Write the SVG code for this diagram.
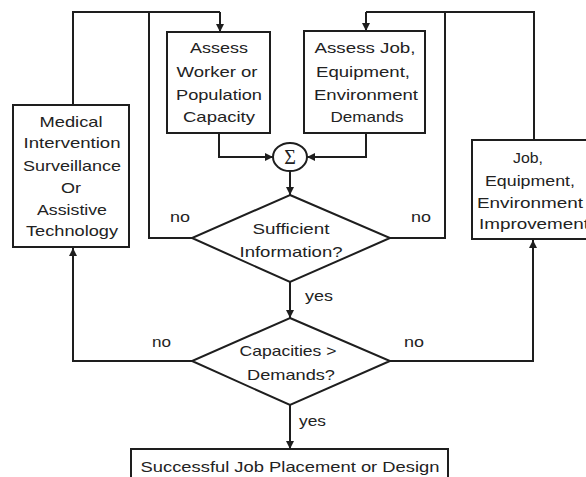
<svg xmlns="http://www.w3.org/2000/svg" width="586" height="477" viewBox="0 0 586 477">
  <defs>
    <marker id="arrow" viewBox="0 0 10 10" refX="10" refY="5" markerWidth="8" markerHeight="8" markerUnits="userSpaceOnUse" orient="auto">
      <path d="M0,0 L10,5 L0,10 z" fill="#1e1e1e"/>
    </marker>
  </defs>
  <style>
    .box { fill: #fff; stroke: #1e1e1e; stroke-width: 2; }
    .line { fill: none; stroke: #1e1e1e; stroke-width: 2; }
    .arr { marker-end: url(#arrow); }
    text { font-family: "Liberation Sans", Arial, sans-serif; font-size: 15px; fill: #222; text-anchor: middle; }
    .lbl { text-anchor: start; }
    .sigma { font-family: "Liberation Serif", "Times New Roman", serif; font-size: 20px; }
  </style>
  <rect width="586" height="477" fill="#fff"/>

  <!-- connectors -->
  <g id="connectors">
    <!-- left feedback loop into capacity assessment -->
    <polyline class="line" points="73,105 73,12 220,12"/>
    <polyline class="line" points="192,238 149,238 149,12"/>
    <polyline class="line arr" points="220,12 220,32"/>
    <!-- right feedback loop into demand assessment -->
    <polyline class="line" points="534,140 534,12 366,12"/>
    <polyline class="line" points="390,238 445,238 445,12"/>
    <polyline class="line arr" points="366,12 366,31"/>
    <!-- assessments into summation -->
    <polyline class="line arr" points="219,133 219,157 273,157"/>
    <polyline class="line arr" points="366,133 366,157 307,157"/>
    <!-- summation to first decision -->
    <polyline class="line arr" points="290,171 290,195"/>
    <!-- yes paths -->
    <polyline class="line arr" points="290,282 290,318"/>
    <polyline class="line arr" points="290,405 290,449"/>
    <!-- no paths from second decision -->
    <polyline class="line arr" points="192,361 73,361 73,248"/>
    <polyline class="line arr" points="390,361 533,361 533,240"/>
    <text class="lbl" x="170" y="222" textLength="20" lengthAdjust="spacingAndGlyphs">no</text>
    <text class="lbl" x="411" y="222" textLength="20" lengthAdjust="spacingAndGlyphs">no</text>
    <text class="lbl" x="305" y="301" textLength="28" lengthAdjust="spacingAndGlyphs">yes</text>
    <text class="lbl" x="299" y="426" textLength="27" lengthAdjust="spacingAndGlyphs">yes</text>
    <text class="lbl" x="152" y="347" textLength="19" lengthAdjust="spacingAndGlyphs">no</text>
    <text class="lbl" x="404" y="347" textLength="20" lengthAdjust="spacingAndGlyphs">no</text>
  </g>

  <g id="assess-capacity">
    <rect class="box" x="167" y="32" width="103" height="101"/>
    <text x="219" y="53" textLength="58" lengthAdjust="spacingAndGlyphs">Assess</text>
    <text x="217" y="77" textLength="81" lengthAdjust="spacingAndGlyphs">Worker or</text>
    <text x="219" y="100" textLength="86" lengthAdjust="spacingAndGlyphs">Population</text>
    <text x="219" y="122" textLength="72" lengthAdjust="spacingAndGlyphs">Capacity</text>
  </g>

  <g id="assess-demands">
    <rect class="box" x="304" y="31" width="121" height="102"/>
    <text x="365" y="53" textLength="101" lengthAdjust="spacingAndGlyphs">Assess Job,</text>
    <text x="363" y="77" textLength="94" lengthAdjust="spacingAndGlyphs">Equipment,</text>
    <text x="366" y="100" textLength="104" lengthAdjust="spacingAndGlyphs">Environment</text>
    <text x="367" y="122" textLength="73" lengthAdjust="spacingAndGlyphs">Demands</text>
  </g>

  <g id="summation">
    <ellipse class="box" cx="290" cy="157" rx="17" ry="14"/>
    <text class="sigma" x="290" y="164">Σ</text>
  </g>

  <g id="medical">
    <rect class="box" x="13" y="105" width="116" height="142"/>
    <text x="71" y="127" textLength="63" lengthAdjust="spacingAndGlyphs">Medical</text>
    <text x="72" y="148" textLength="97" lengthAdjust="spacingAndGlyphs">Intervention</text>
    <text x="72" y="171" textLength="98" lengthAdjust="spacingAndGlyphs">Surveillance</text>
    <text x="71" y="193" textLength="20" lengthAdjust="spacingAndGlyphs">Or</text>
    <text x="72" y="215" textLength="70" lengthAdjust="spacingAndGlyphs">Assistive</text>
    <text x="72" y="236" textLength="92" lengthAdjust="spacingAndGlyphs">Technology</text>
  </g>

  <g id="improvement">
    <rect class="box" x="472" y="140" width="126" height="99"/>
    <text x="528" y="163" textLength="30" lengthAdjust="spacingAndGlyphs">Job,</text>
    <text x="530" y="186" textLength="90" lengthAdjust="spacingAndGlyphs">Equipment,</text>
    <text x="530" y="208" textLength="106" lengthAdjust="spacingAndGlyphs">Environment</text>
    <text x="534" y="229" textLength="110" lengthAdjust="spacingAndGlyphs">Improvement</text>
  </g>

  <g id="sufficient-info">
    <polygon class="box" points="290,195 390,238 290,282 192,238"/>
    <text x="291" y="234" textLength="77" lengthAdjust="spacingAndGlyphs">Sufficient</text>
    <text x="291" y="257" textLength="103" lengthAdjust="spacingAndGlyphs">Information?</text>
  </g>

  <g id="capacities-vs-demands">
    <polygon class="box" points="290,318 390,361 290,405 192,361"/>
    <text x="288" y="356" textLength="97" lengthAdjust="spacingAndGlyphs">Capacities &gt;</text>
    <text x="291" y="380" textLength="88" lengthAdjust="spacingAndGlyphs">Demands?</text>
  </g>

  <g id="placement">
    <rect class="box" x="131" y="449" width="317" height="40"/>
    <text x="290" y="472" textLength="299" lengthAdjust="spacingAndGlyphs">Successful Job Placement or Design</text>
  </g>
</svg>
